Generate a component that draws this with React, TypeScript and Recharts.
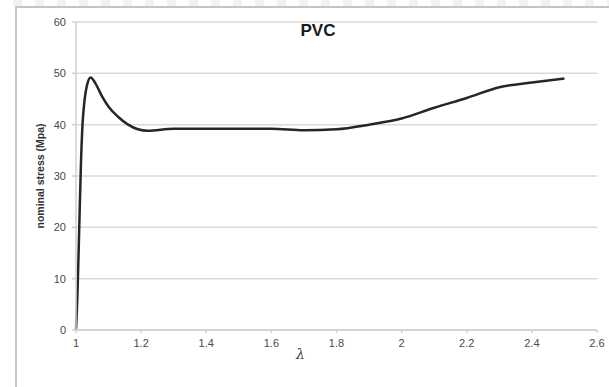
import { CartesianGrid, Line, LineChart, XAxis, YAxis } from "recharts";

// stretch ratio (lambda) vs nominal stress
const lambda = [
  1, 1.005, 1.01, 1.015, 1.02, 1.025, 1.035, 1.045, 1.06, 1.08, 1.1, 1.13, 1.16, 1.19, 1.22,
  1.3, 1.4, 1.5, 1.6, 1.7, 1.8, 1.9, 2.0, 2.1, 2.2, 2.3, 2.4, 2.5
];
const stress = [
  0, 8, 20, 32, 40, 44, 48, 49.2, 48, 45.5, 43.5, 41.5, 40, 39.1, 38.8,
  39.2, 39.2, 39.2, 39.2, 38.9, 39.1, 40, 41.2, 43.3, 45.2, 47.3, 48.2, 49
];
const xTicks = [1, 1.2, 1.4, 1.6, 1.8, 2, 2.2, 2.4, 2.6];
const yTicks = [0, 10, 20, 30, 40, 50, 60];

const data = lambda.map((l, i) => ({ lambda: l, stress: stress[i] }));

const TICK = { fontSize: 11, fill: "#4a4a4a", fontFamily: "Liberation Sans, Arial, sans-serif" };

export default function App() {
  return (
    <div style={{ position: "absolute", left: 0, top: 0, width: 609, height: 387, background: "#fff" }}>
      <div
        style={{
          position: "absolute",
          left: 0,
          top: 0,
          width: 609,
          height: 6,
          background: "repeating-linear-gradient(90deg, #fff 0px, #fff 13px, #f1f1f1 13px, #f1f1f1 22px)"
        }}
      />
      <div
        style={{
          position: "absolute",
          left: 15,
          top: 6,
          width: 594,
          height: 381,
          borderLeft: "2px solid #c4c4c4",
          borderTop: "2px solid #c4c4c4"
        }}
      />
      <LineChart
        width={609}
        height={387}
        data={data}
        margin={{ top: 22, right: 12, left: 0, bottom: 27 }}
        style={{ position: "absolute", left: 0, top: 0 }}
      >
        <CartesianGrid vertical={false} stroke="#d9d9d9" strokeWidth={1.5} />
        <XAxis
          dataKey="lambda"
          type="number"
          domain={[1, 2.6]}
          ticks={xTicks}
          interval={0}
          tick={TICK}
          tickSize={3}
          tickMargin={6}
          stroke="#d0d0d0"
          strokeWidth={1.5}
          height={30}
          label={{
            value: "λ",
            position: "insideBottom",
            dx: -36,
            dy: 4,
            style: { fontSize: 14, fontStyle: "italic", fill: "#404040", fontFamily: "DejaVu Serif, serif" }
          }}
        />
        <YAxis
          type="number"
          domain={[0, 60]}
          ticks={yTicks}
          interval={0}
          tick={TICK}
          tickSize={4}
          tickMargin={6}
          stroke="#d0d0d0"
          strokeWidth={1.5}
          width={76}
          label={{
            value: "nominal stress (Mpa)",
            angle: -90,
            position: "insideLeft",
            offset: 0,
            dx: 40,
            style: {
              textAnchor: "middle",
              fontSize: 10.5,
              fontWeight: "bold",
              fill: "#333",
              fontFamily: "Liberation Sans, Arial, sans-serif"
            }
          }}
        />
        <Line
          type="monotone"
          dataKey="stress"
          stroke="#262626"
          strokeWidth={2.5}
          dot={false}
          activeDot={false}
          isAnimationActive={false}
        />
      </LineChart>
      <div
        style={{
          position: "absolute",
          left: 268,
          top: 21,
          width: 100,
          textAlign: "center",
          fontFamily: "Liberation Sans, Arial, sans-serif",
          fontWeight: "bold",
          fontSize: 17,
          color: "#1a1a1a"
        }}
      >
        PVC
      </div>
    </div>
  );
}
